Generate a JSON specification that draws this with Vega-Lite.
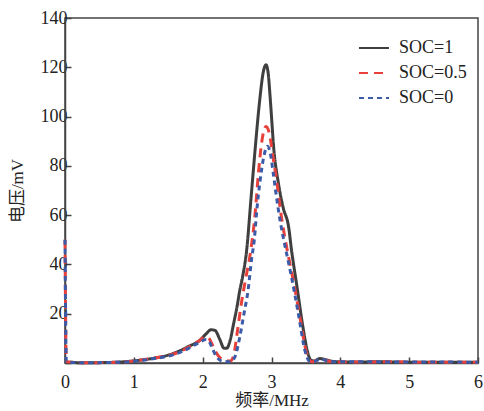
{
  "$schema": "https://vega.github.io/schema/vega-lite/v6.json",
  "width": 413,
  "height": 345,
  "autosize": "none",
  "padding": {"left": 65, "top": 18, "right": 6, "bottom": 48},
  "background": "white",
  "config": {
    "view": {"stroke": "#444444", "strokeWidth": 1.5},
    "font": "Liberation Serif",
    "axis": {"domainColor": "#444444", "domainWidth": 1.5, "tickColor": "#444444", "tickWidth": 1.5, "grid": false, "labelColor": "#222222", "titleColor": "#222222"}
  },
  "data": {
    "values": [
      {"f": 0, "v": 0.3, "s": "SOC=1"},
      {"f": 0.3, "v": 0.1, "s": "SOC=1"},
      {"f": 0.6, "v": 0.2, "s": "SOC=1"},
      {"f": 0.9, "v": 0.6, "s": "SOC=1"},
      {"f": 1.1, "v": 1.2, "s": "SOC=1"},
      {"f": 1.3, "v": 2.0, "s": "SOC=1"},
      {"f": 1.5, "v": 3.2, "s": "SOC=1"},
      {"f": 1.67, "v": 5.0, "s": "SOC=1"},
      {"f": 1.8, "v": 6.8, "s": "SOC=1"},
      {"f": 1.95, "v": 9.0, "s": "SOC=1"},
      {"f": 2.05, "v": 11.8, "s": "SOC=1"},
      {"f": 2.12, "v": 13.5, "s": "SOC=1"},
      {"f": 2.18, "v": 13.2, "s": "SOC=1"},
      {"f": 2.25, "v": 9.5, "s": "SOC=1"},
      {"f": 2.31, "v": 6.0, "s": "SOC=1"},
      {"f": 2.35, "v": 6.0, "s": "SOC=1"},
      {"f": 2.4, "v": 9.3, "s": "SOC=1"},
      {"f": 2.45, "v": 16, "s": "SOC=1"},
      {"f": 2.5, "v": 23, "s": "SOC=1"},
      {"f": 2.54, "v": 29.6, "s": "SOC=1"},
      {"f": 2.58, "v": 35, "s": "SOC=1"},
      {"f": 2.64, "v": 46, "s": "SOC=1"},
      {"f": 2.7, "v": 66, "s": "SOC=1"},
      {"f": 2.76, "v": 86, "s": "SOC=1"},
      {"f": 2.83, "v": 107, "s": "SOC=1"},
      {"f": 2.88, "v": 118, "s": "SOC=1"},
      {"f": 2.92, "v": 121, "s": "SOC=1"},
      {"f": 2.95, "v": 118, "s": "SOC=1"},
      {"f": 2.98, "v": 108, "s": "SOC=1"},
      {"f": 3.0, "v": 100, "s": "SOC=1"},
      {"f": 3.03, "v": 88, "s": "SOC=1"},
      {"f": 3.1, "v": 73, "s": "SOC=1"},
      {"f": 3.17, "v": 63, "s": "SOC=1"},
      {"f": 3.25, "v": 55, "s": "SOC=1"},
      {"f": 3.29, "v": 46, "s": "SOC=1"},
      {"f": 3.37, "v": 31, "s": "SOC=1"},
      {"f": 3.46, "v": 14, "s": "SOC=1"},
      {"f": 3.52, "v": 5, "s": "SOC=1"},
      {"f": 3.57, "v": 1.2, "s": "SOC=1"},
      {"f": 3.62, "v": 0.8, "s": "SOC=1"},
      {"f": 3.7, "v": 1.8, "s": "SOC=1"},
      {"f": 3.78, "v": 1.4, "s": "SOC=1"},
      {"f": 3.9, "v": 0.6, "s": "SOC=1"},
      {"f": 4.2, "v": 0.4, "s": "SOC=1"},
      {"f": 4.6, "v": 0.5, "s": "SOC=1"},
      {"f": 5.0, "v": 0.3, "s": "SOC=1"},
      {"f": 5.5, "v": 0.3, "s": "SOC=1"},
      {"f": 6.0, "v": 0.3, "s": "SOC=1"},

      {"f": 0, "v": 50, "s": "SOC=0.5"},
      {"f": 0.02, "v": 0.5, "s": "SOC=0.5"},
      {"f": 0.3, "v": 0.1, "s": "SOC=0.5"},
      {"f": 0.6, "v": 0.2, "s": "SOC=0.5"},
      {"f": 0.9, "v": 0.5, "s": "SOC=0.5"},
      {"f": 1.1, "v": 1.2, "s": "SOC=0.5"},
      {"f": 1.3, "v": 2.0, "s": "SOC=0.5"},
      {"f": 1.5, "v": 3.0, "s": "SOC=0.5"},
      {"f": 1.67, "v": 4.6, "s": "SOC=0.5"},
      {"f": 1.8, "v": 6.5, "s": "SOC=0.5"},
      {"f": 1.95, "v": 9.0, "s": "SOC=0.5"},
      {"f": 2.03, "v": 10.5, "s": "SOC=0.5"},
      {"f": 2.08, "v": 10.3, "s": "SOC=0.5"},
      {"f": 2.13, "v": 8.0, "s": "SOC=0.5"},
      {"f": 2.18, "v": 5.0, "s": "SOC=0.5"},
      {"f": 2.25, "v": 2.2, "s": "SOC=0.5"},
      {"f": 2.32, "v": 1.2, "s": "SOC=0.5"},
      {"f": 2.4, "v": 0.8, "s": "SOC=0.5"},
      {"f": 2.45, "v": 3, "s": "SOC=0.5"},
      {"f": 2.5, "v": 12, "s": "SOC=0.5"},
      {"f": 2.57, "v": 25.6, "s": "SOC=0.5"},
      {"f": 2.63, "v": 35, "s": "SOC=0.5"},
      {"f": 2.69, "v": 44, "s": "SOC=0.5"},
      {"f": 2.76, "v": 60, "s": "SOC=0.5"},
      {"f": 2.81, "v": 77, "s": "SOC=0.5"},
      {"f": 2.86, "v": 90, "s": "SOC=0.5"},
      {"f": 2.92, "v": 96, "s": "SOC=0.5"},
      {"f": 2.97, "v": 93, "s": "SOC=0.5"},
      {"f": 3.02, "v": 84, "s": "SOC=0.5"},
      {"f": 3.08, "v": 73, "s": "SOC=0.5"},
      {"f": 3.13, "v": 62, "s": "SOC=0.5"},
      {"f": 3.2, "v": 50, "s": "SOC=0.5"},
      {"f": 3.27, "v": 40, "s": "SOC=0.5"},
      {"f": 3.32, "v": 33, "s": "SOC=0.5"},
      {"f": 3.42, "v": 17.5, "s": "SOC=0.5"},
      {"f": 3.51, "v": 4, "s": "SOC=0.5"},
      {"f": 3.59, "v": 0.5, "s": "SOC=0.5"},
      {"f": 3.65, "v": 1.0, "s": "SOC=0.5"},
      {"f": 3.72, "v": 1.6, "s": "SOC=0.5"},
      {"f": 3.8, "v": 1.0, "s": "SOC=0.5"},
      {"f": 3.9, "v": 0.4, "s": "SOC=0.5"},
      {"f": 4.3, "v": 0.4, "s": "SOC=0.5"},
      {"f": 4.7, "v": 0.5, "s": "SOC=0.5"},
      {"f": 5.2, "v": 0.3, "s": "SOC=0.5"},
      {"f": 6.0, "v": 0.3, "s": "SOC=0.5"},

      {"f": 0, "v": 50, "s": "SOC=0"},
      {"f": 0.02, "v": 0.5, "s": "SOC=0"},
      {"f": 0.3, "v": 0.1, "s": "SOC=0"},
      {"f": 0.6, "v": 0.2, "s": "SOC=0"},
      {"f": 0.9, "v": 0.4, "s": "SOC=0"},
      {"f": 1.1, "v": 1.0, "s": "SOC=0"},
      {"f": 1.3, "v": 1.8, "s": "SOC=0"},
      {"f": 1.5, "v": 2.8, "s": "SOC=0"},
      {"f": 1.67, "v": 4.3, "s": "SOC=0"},
      {"f": 1.8, "v": 6.0, "s": "SOC=0"},
      {"f": 1.95, "v": 8.3, "s": "SOC=0"},
      {"f": 2.05, "v": 9.5, "s": "SOC=0"},
      {"f": 2.1, "v": 8.5, "s": "SOC=0"},
      {"f": 2.13, "v": 6.6, "s": "SOC=0"},
      {"f": 2.2, "v": 2.6, "s": "SOC=0"},
      {"f": 2.28, "v": 0.8, "s": "SOC=0"},
      {"f": 2.4, "v": 0.5, "s": "SOC=0"},
      {"f": 2.47, "v": 2.6, "s": "SOC=0"},
      {"f": 2.54, "v": 10.7, "s": "SOC=0"},
      {"f": 2.6, "v": 20, "s": "SOC=0"},
      {"f": 2.66, "v": 29.6, "s": "SOC=0"},
      {"f": 2.71, "v": 42, "s": "SOC=0"},
      {"f": 2.75, "v": 50, "s": "SOC=0"},
      {"f": 2.79, "v": 63, "s": "SOC=0"},
      {"f": 2.83, "v": 73, "s": "SOC=0"},
      {"f": 2.89, "v": 84, "s": "SOC=0"},
      {"f": 2.94, "v": 88, "s": "SOC=0"},
      {"f": 2.99, "v": 84, "s": "SOC=0"},
      {"f": 3.03, "v": 76, "s": "SOC=0"},
      {"f": 3.09, "v": 64, "s": "SOC=0"},
      {"f": 3.13, "v": 57, "s": "SOC=0"},
      {"f": 3.17, "v": 51, "s": "SOC=0"},
      {"f": 3.23, "v": 43, "s": "SOC=0"},
      {"f": 3.29, "v": 35, "s": "SOC=0"},
      {"f": 3.39, "v": 20, "s": "SOC=0"},
      {"f": 3.49, "v": 4.6, "s": "SOC=0"},
      {"f": 3.55, "v": 0.8, "s": "SOC=0"},
      {"f": 3.62, "v": 0.6, "s": "SOC=0"},
      {"f": 3.71, "v": 1.6, "s": "SOC=0"},
      {"f": 3.8, "v": 1.0, "s": "SOC=0"},
      {"f": 3.9, "v": 0.5, "s": "SOC=0"},
      {"f": 4.4, "v": 0.5, "s": "SOC=0"},
      {"f": 4.8, "v": 0.4, "s": "SOC=0"},
      {"f": 5.3, "v": 0.4, "s": "SOC=0"},
      {"f": 6.0, "v": 0.3, "s": "SOC=0"}
    ]
  },
  "mark": {"type": "line", "interpolate": "monotone", "strokeWidth": 3},
  "encoding": {
    "x": {
      "field": "f", "type": "quantitative",
      "scale": {"domain": [0, 6], "nice": false, "zero": false},
      "axis": {
        "title": "频率/MHz", "values": [0, 1, 2, 3, 4, 5, 6], "format": "d", "labelFlush": false,
        "tickSize": -6, "labelPadding": 16, "labelFontSize": 18, "labelFont": "Liberation Serif",
        "titleFont": "Liberation Serif, Noto Sans CJK SC", "titleFontSize": 17, "titleFontWeight": "normal", "titlePadding": 1
      }
    },
    "y": {
      "field": "v", "type": "quantitative",
      "scale": {"domain": [0, 140], "nice": false},
      "axis": {
        "title": "电压/mV", "values": [0, 20, 40, 60, 80, 100, 120, 140], "labelFlush": false,
        "labelExpr": "datum.value == 0 ? '' : datum.label",
        "tickSize": -6, "labelPadding": 4, "labelFontSize": 18, "labelFont": "Liberation Serif",
        "titleFont": "Liberation Serif, Noto Sans CJK SC", "titleFontSize": 17, "titleFontWeight": "normal", "titlePadding": 14
      }
    },
    "color": {
      "field": "s", "type": "nominal",
      "scale": {"domain": ["SOC=1", "SOC=0.5", "SOC=0"], "range": ["#3f3f3f", "#e8413c", "#3b5ba8"]},
      "legend": {
        "title": null, "orient": "none", "legendX": 293, "legendY": 20,
        "symbolType": "stroke", "symbolSize": 900, "symbolStrokeWidth": 1.8,
        "labelFont": "Liberation Serif", "labelFontSize": 18, "labelColor": "#222222", "labelOffset": 9,
        "clipHeight": 20, "rowPadding": 5
      }
    },
    "strokeDash": {
      "field": "s", "type": "nominal",
      "scale": {"domain": ["SOC=1", "SOC=0.5", "SOC=0"], "range": [[1, 0], [9, 6], [5, 4]]},
      "legend": {
        "title": null, "orient": "none", "legendX": 293, "legendY": 20,
        "symbolType": "stroke", "symbolSize": 900, "symbolStrokeWidth": 1.8,
        "labelFont": "Liberation Serif", "labelFontSize": 18, "labelColor": "#222222", "labelOffset": 9,
        "clipHeight": 20, "rowPadding": 5
      }
    }
  }
}
